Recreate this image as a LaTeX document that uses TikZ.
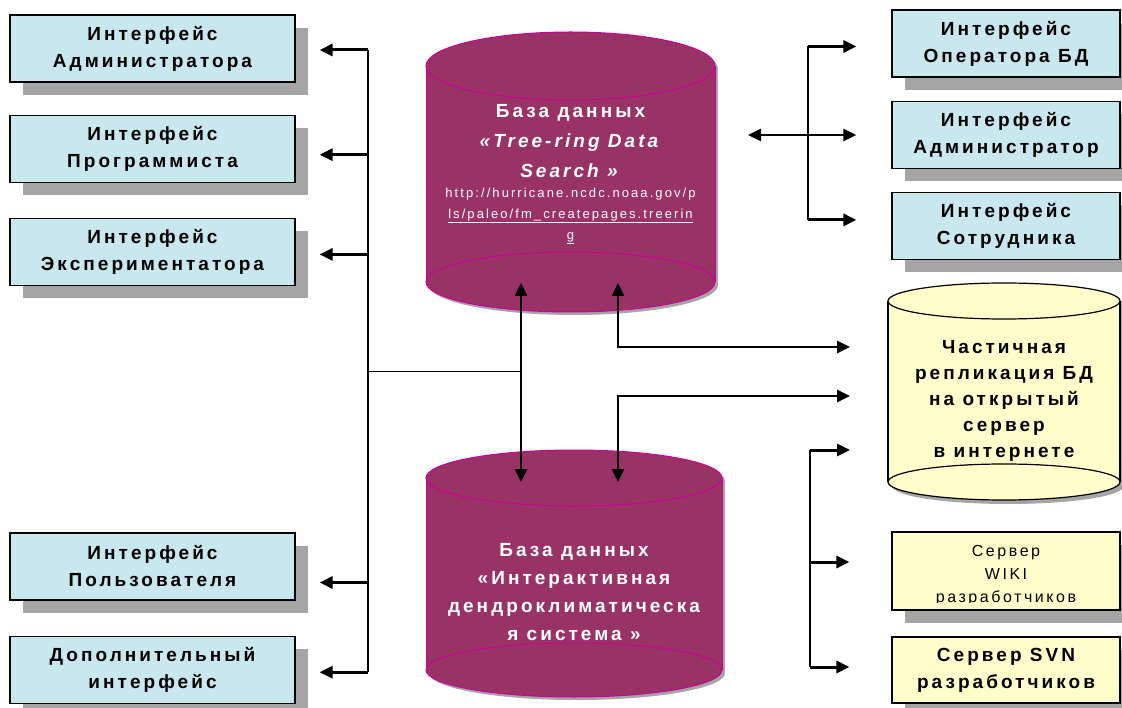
\documentclass[tikz,border=0pt]{standalone}
\usepackage{fontspec}
\setmainfont{Liberation Sans}[LetterSpace=16]
\usepackage{tikz}
\usetikzlibrary{arrows.meta,positioning,shadows,calc}

\definecolor{ifblue}{RGB}{200,232,238}
\definecolor{dbred}{RGB}{153,51,102}
\definecolor{dbedge}{RGB}{204,0,153}
\definecolor{srvyellow}{RGB}{255,255,204}
\definecolor{shadowgray}{RGB}{165,165,165}

\begin{document}
\begin{tikzpicture}[
  x=1pt, y=-1pt, >={Triangle[length=13pt,width=12pt]},
  font=\fontsize{19}{27}\selectfont\bfseries,
  ifbox/.style={rectangle, draw, line width=1.2pt, fill=ifblue, align=center,
    minimum width=285pt, minimum height=67pt,
    drop shadow={shadow xshift=13pt, shadow yshift=-13pt, opacity=1, fill=shadowgray}},
  rbox/.style={ifbox, minimum width=228pt},
  srvbox/.style={rbox, fill=srvyellow},
  dbtext/.style={align=center, text=white},
  arr/.style={->, line width=3pt},
  dbl/.style={<->, line width=2.5pt},
  bus/.style={line width=2pt}
]
\useasboundingbox (0,0) rectangle (1122,708);

% interfaces, left column
\node[ifbox] (ifAdmin) at (152.5,48.5) {Интерфейс\\Администратора};
\node[ifbox, below=32pt of ifAdmin] (ifProg) {Интерфейс\\Программиста};
\node[ifbox, below=35pt of ifProg] (ifExp) {Интерфейс\\Экспериментатора};
\node[ifbox] (ifUser) at (152.5,566.5) {Интерфейс\\Пользователя};
\node[ifbox, below=35pt of ifUser] (ifExtra) {Дополнительный\\интерфейс};

% interfaces, right column
\node[rbox] (ifOper) at (1006,43.5) {Интерфейс\\Оператора БД};
\node[rbox, below=23pt of ifOper] (ifDbAdmin) {Интерфейс\\Администратор};
\node[rbox, below=23pt of ifDbAdmin] (ifStaff) {Интерфейс\\Сотрудника};

% servers
\node[srvbox, minimum height=78pt] (srvWiki) at (1006,571) {};
\begin{scope}
  \clip (srvWiki.north west) rectangle ([yshift=8pt]srvWiki.south east);
  \node[align=center, font=\fontsize{16}{23}\selectfont\mdseries] (wikiTxt) at (1006,576) {Сервер\\WIKI\\разработчиков};
\end{scope}
\node[srvbox, minimum height=66pt] (srvSvn) at (1006,670) {Сервер SVN\\разработчиков};

% database Tree-ring (top can)
\fill[shadowgray] (429,69) rectangle (718,285);
\fill[shadowgray] (573.5,285) ellipse [x radius=144.5, y radius=30];
\fill[shadowgray] (573.5,69) ellipse [x radius=144.5, y radius=34];
\fill[dbred] (426,66) rectangle (715,282);
\fill[dbred] (570.5,282) ellipse [x radius=144.5, y radius=30];
\draw[dbedge, line width=1pt] (426,66) -- (426,282) (715,66) -- (715,282);
\draw[dbedge, line width=1pt] (570.5,282) ellipse [x radius=144.5, y radius=30];
\draw[dbedge, line width=1pt, fill=dbred] (570.5,66) ellipse [x radius=144.5, y radius=34];
\node[dbtext, font=\fontsize{19}{30}\selectfont\bfseries] (dbTree) at (570.5,141)
  {База данных\\\textit{«Tree-ring Data}\\\textit{Search »}};
\node[dbtext, font=\fontsize{13}{21}\selectfont\mdseries] (treeUrl) at (570.5,216)
  {http://hurricane.ncdc.noaa.gov/p\\\underline{ls/paleo/fm\_createpages.treerin}\\\underline{g}};

% database IDS (bottom can)
\fill[shadowgray] (429,481) rectangle (725,673);
\fill[shadowgray] (577,673) ellipse [x radius=148, y radius=27];
\fill[shadowgray] (577,481) ellipse [x radius=148, y radius=28];
\fill[dbred] (426,478) rectangle (722,670);
\fill[dbred] (574,670) ellipse [x radius=148, y radius=27];
\draw[dbedge, line width=1pt] (426,478) -- (426,670) (722,478) -- (722,670);
\draw[dbedge, line width=1pt] (574,670) ellipse [x radius=148, y radius=27];
\draw[dbedge, line width=1pt, fill=dbred] (574,478) ellipse [x radius=148, y radius=28];
\node[dbtext, font=\fontsize{19}{28}\selectfont\bfseries] (dbIds) at (574,592)
  {База данных\\«Интерактивная\\дендроклиматическа\\я система »};

% partial replication (yellow can)
\fill[shadowgray] (892,305) rectangle (1124,486);
\fill[shadowgray] (1008,486) ellipse [x radius=116, y radius=18];
\fill[shadowgray] (1008,305) ellipse [x radius=116, y radius=18];
\fill[srvyellow] (888,301) rectangle (1120,482);
\fill[srvyellow] (1004,482) ellipse [x radius=116, y radius=18];
\draw[line width=1.2pt] (888,301) -- (888,482) (1120,301) -- (1120,482);
\draw[line width=1.2pt] (1004,482) ellipse [x radius=116, y radius=18];
\draw[line width=1.2pt, fill=srvyellow] (1004,301) ellipse [x radius=116, y radius=18];
\node[align=center, font=\fontsize{19}{26}\selectfont\bfseries] (repl) at (1004,401)
  {Частичная\\репликация БД\\на открытый\\сервер\\в интернете};

% ports
\coordinate (busL) at (368,372);
\coordinate (busR) at (808,135);
\coordinate (busS) at (810,450);
\coordinate (treeP1) at (521,283);
\coordinate (treeP2) at (618,283);
\coordinate (treeR) at (748,135);
\coordinate (idsP1) at (521,482);
\coordinate (idsP2) at (618,482);
\coordinate (replA) at (850,347);
\coordinate (replB) at (850,396);
\coordinate (replC) at (850,450);

% left bus
\draw[bus] ([yshift=-1.5pt]ifAdmin.east -| busL) -- ([yshift=-2.5pt]ifExtra.east -| busL);
\draw[arr, shorten >=24pt] ([yshift=-1.5pt]ifAdmin.east -| busL) -- ([yshift=-1.5pt]ifAdmin.east);
\draw[arr, shorten >=24pt] ([yshift=-6pt]ifProg.east -| busL) -- ([yshift=-6pt]ifProg.east);
\draw[arr, shorten >=24pt] ([yshift=-2.5pt]ifExp.east -| busL) -- ([yshift=-2.5pt]ifExp.east);
\draw[arr, shorten >=24pt] ([yshift=-16pt]ifUser.east -| busL) -- ([yshift=-16pt]ifUser.east);
\draw[arr, shorten >=24pt] ([yshift=-2.5pt]ifExtra.east -| busL) -- ([yshift=-2.5pt]ifExtra.east);
\draw[line width=1pt] (busL) -- (busL -| treeP1);

% between the databases
\draw[dbl] (treeP1) -- (idsP1);
\draw[dbl] (treeP2) |- (replA);
\draw[dbl] (idsP2) |- (replB);

% right bus
\draw[bus] ([yshift=-3pt]ifOper.west -| busR) -- ([yshift=6pt]ifStaff.west -| busR);
\draw[arr, shorten >=35pt] ([yshift=-3pt]ifOper.west -| busR) -- ([yshift=-3pt]ifOper.west);
\draw[arr, shorten >=35pt] ([yshift=6pt]ifStaff.west -| busR) -- ([yshift=6pt]ifStaff.west);
\draw[dbl, shorten >=35pt] (treeR) -- (treeR -| ifDbAdmin.west);

% servers bus
\draw[bus] (busS) -- ([yshift=3pt]srvSvn.west -| busS);
\draw[arr] (busS) -- (replC);
\draw[arr, shorten >=42pt] ([yshift=9pt]srvWiki.west -| busS) -- ([yshift=9pt]srvWiki.west);
\draw[arr, shorten >=42pt] ([yshift=3pt]srvSvn.west -| busS) -- ([yshift=3pt]srvSvn.west);
\end{tikzpicture}
\end{document}
